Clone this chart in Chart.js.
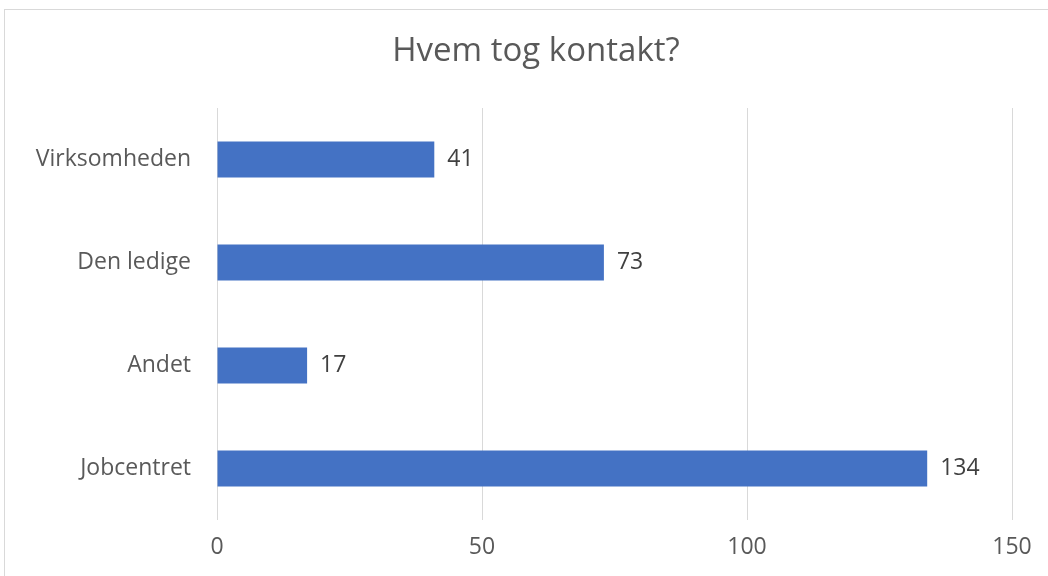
<!DOCTYPE html>
<html>
<head>
<meta charset="utf-8">
<script src="https://cdn.jsdelivr.net/npm/chart.js@4"></script>
<style>
  html, body { margin: 0; padding: 0; background: #fff; overflow: hidden; }
  #wrap { position: relative; width: 1048px; height: 576px; }
  #frame { position: absolute; left: 4px; top: 9px; width: 1100px; height: 700px; border-top: 1px solid #d9d9d9; border-left: 1px solid #d9d9d9; }
  canvas { position: absolute; left: 0; top: 0; }
</style>
</head>
<body>
<div id="wrap">
  <div id="frame"></div>
  <canvas id="c" width="1048" height="576"></canvas>
</div>
<script>
const titleText = "Hvem tog kontakt?";
const categories = ["Virksomheden", "Den ledige", "Andet", "Jobcentret"];
const values = [41, 73, 17, 134];
const xTicks = [0, 50, 100, 150];

const FONT = "'Open Sans', Lato, sans-serif";

const titleAndLabels = {
  id: 'titleAndLabels',
  afterDatasetsDraw(chart) {
    const ctx = chart.ctx;
    const meta = chart.getDatasetMeta(0);
    ctx.save();
    ctx.font = "23px " + FONT;
    ctx.fillStyle = "#404040";
    ctx.textAlign = "left";
    ctx.textBaseline = "middle";
    meta.data.forEach((bar, i) => {
      ctx.fillText(String(values[i]), bar.x + 13, bar.y);
    });
    ctx.font = "33px " + FONT;
    ctx.fillStyle = "#595959";
    ctx.textAlign = "center";
    ctx.fillText(titleText, 536, 52);
    ctx.restore();
  }
};

new Chart(document.getElementById('c'), {
  type: 'bar',
  data: {
    labels: categories,
    datasets: [{
      data: values,
      backgroundColor: '#4472C4',
      borderWidth: 0,
      categoryPercentage: 1,
      barPercentage: 0.35
    }]
  },
  options: {
    indexAxis: 'y',
    responsive: false,
    animation: false,
    devicePixelRatio: 1,
    layout: { padding: { left: 0, right: 36, top: 108, bottom: 0 } },
    plugins: {
      legend: { display: false },
      tooltip: { enabled: false },
      title: { display: false }
    },
    scales: {
      x: {
        min: 0,
        max: 150,
        afterBuildTicks(scale) { scale.ticks = xTicks.map(v => ({ value: v })); },
        grid: { color: '#d9d9d9', drawTicks: false, lineWidth: 1 },
        border: { display: false },
        ticks: { color: '#595959', font: { family: FONT, size: 23 }, padding: 14 },
        afterFit(scale) { scale.height = 56; }
      },
      y: {
        grid: { display: false },
        border: { display: false },
        ticks: { color: '#595959', font: { family: FONT, size: 23 }, padding: 18 },
        afterFit(scale) { scale.width = 217; }
      }
    }
  },
  plugins: [titleAndLabels]
});
</script>
</body>
</html>
